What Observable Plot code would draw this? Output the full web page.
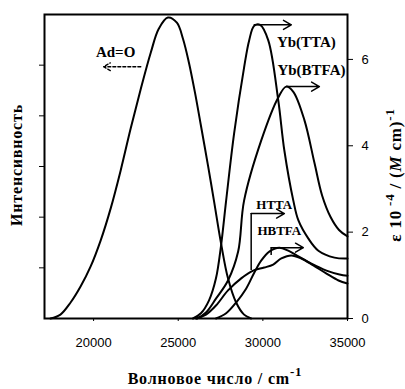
<!DOCTYPE html>
<html><head><meta charset="utf-8">
<script src="https://cdn.jsdelivr.net/npm/d3@7"></script>
<script src="https://cdn.jsdelivr.net/npm/@observablehq/plot@0.6"></script>
<style>body{margin:0;background:#fff}</style>
</head><body><div id="chart"></div>
<script>
// Tick values
const xTicks = [20000, 25000, 30000, 35000];
const yRightTicks = [0, 2, 4, 6];

// Series (wavenumber cm-1, value)
const adoX = [17450,18040,18640,19230,19820,20420,21010,21600,22190,22790,23380,23850,24390,24920,25280,25630,25990,26340,26760,27110,27530,27940,28420,28890,29310];
const adoY = [0,0.09,0.37,0.74,1.2,1.81,2.55,3.43,4.4,5.32,6.16,6.71,6.97,6.85,6.48,5.93,5.23,4.47,3.54,2.73,1.74,0.93,0.37,0.09,0];

const ttaX = [25870,26340,26820,27230,27530,27830,28300,28890,29190,29490,29840,30320,30910,31270,31800,32100,32690,33280,34230,35000];
const ttaY = [0,0.12,0.42,0.93,1.69,2.73,4.28,5.81,6.44,6.78,6.8,6.44,5.05,3.89,2.73,2.27,1.85,1.57,1.41,1.39];

const btfaX = [26110,26640,27230,27940,28540,28890,29900,30910,31380,31800,32450,33050,33500,34000,34500,35000];
const btfaY = [0,0.14,0.46,0.88,1.55,2.73,4.12,5.12,5.37,5.25,4.6,3.6,2.85,2.35,2.05,1.9];

const httaX = [26050,26640,27230,27940,28720,29430,30080,30610,31090,31680,32270,32980,33760,34470,35000];
const httaY = [0,0.09,0.3,0.65,0.93,1.11,1.18,1.25,1.39,1.46,1.39,1.23,1.04,0.88,0.81];

const hbtfaX = [27230,27830,28420,29010,29490,29900,30380,30970,31500,32100,32870,33760,34530,35000];
const hbtfaY = [0,0.12,0.37,0.69,1.06,1.34,1.55,1.64,1.57,1.44,1.27,1.11,1.02,0.99];

const seriesNames = ["Ad=O","Yb(TTA)","Yb(BTFA)","HTTA","HBTFA"];
const seriesXs = [adoX, ttaX, btfaX, httaX, hbtfaX];
const seriesYs = [adoY, ttaY, btfaY, httaY, hbtfaY];

// Annotation labels (data coordinates)
const labelText = ["Ad=O","Yb(TTA)","Yb(BTFA)","HTTA","HBTFA"];
const labelX = [21300, 32570, 32870, 30670, 30970];
const labelY = [6.16, 6.39, 5.74, 2.64, 2.04];

// Arrows (data coordinates)
const arrowX1 = [22790, 29490, 31380, 29310, 30490];
const arrowX2 = [20590, 31680, 33340, 31270, 32390];
const arrowY = [5.83, 6.8, 5.37, 2.43, 1.64];
const bracketX = [29310, 30490];
const bracketY1 = [1.11, 1.46];
const bracketY2 = [2.43, 1.64];

const data = [];
seriesNames.forEach((s, i) => seriesXs[i].forEach((x, j) => data.push({series: s, x, y: seriesYs[i][j]})));
const labels = labelText.map((t, i) => ({t, x: labelX[i], y: labelY[i], big: i < 3}));
const arrows = arrowX1.map((x1, i) => ({x1, x2: arrowX2[i], y: arrowY[i], dashed: i === 0}));
const brackets = bracketX.map((x, i) => ({x, y1: bracketY1[i], y2: bracketY2[i]}));

const yTop = 7.04;
const leftTicks = [1,2,3,4,5].map(k => k * yTop / 6);

const chart = Plot.plot({
  width: 405, height: 389,
  marginLeft: 44, marginRight: 58, marginTop: 14, marginBottom: 71,
  x: {domain: [17100, 35000]},
  y: {domain: [0, yTop]},
  style: {fontFamily: "'Liberation Sans', Arial, sans-serif", fontSize: "13px", background: "white", color: "black"},
  marks: [
    Plot.frame({stroke: "black", strokeWidth: 2}),
    Plot.axisX({ticks: xTicks, tickSize: 3, tickPadding: 16, tickFormat: d3.format("d"), label: null}),
    Plot.axisY({anchor: "right", ticks: yRightTicks, tickSize: 5, tickPadding: 9, tickFormat: d3.format("d"), label: null}),
    Plot.axisY({anchor: "left", ticks: leftTicks, tickSize: 5, tickFormat: () => "", label: null}),
    Plot.line(data, {x: "x", y: "y", z: "series", curve: "catmull-rom", stroke: "black", strokeWidth: 2}),
    Plot.ruleX(brackets, {x: "x", y1: "y1", y2: "y2", stroke: "black", strokeWidth: 1.5}),
    Plot.arrow(arrows.filter(a => !a.dashed), {x1: "x1", x2: "x2", y1: "y", y2: "y", stroke: "black", strokeWidth: 1.5, headLength: 9}),
    Plot.arrow(arrows.filter(a => a.dashed), {x1: "x1", x2: "x2", y1: "y", y2: "y", stroke: "black", strokeWidth: 1.3, strokeDasharray: "3,2", headLength: 9}),
    Plot.text(labels.filter(d => d.big), {x: "x", y: "y", text: "t", fontFamily: "'Liberation Serif', serif", fontWeight: "bold", fontSize: 15, letterSpacing: "1px"}),
    Plot.text(labels.filter(d => !d.big), {x: "x", y: "y", text: "t", fontFamily: "'Liberation Serif', serif", fontWeight: "bold", fontSize: 13, letterSpacing: "1.5px"})
  ]
});
document.getElementById("chart").appendChild(chart);

// Axis titles with superscripts
const svg = d3.select(chart);
const serif = "'Liberation Serif', 'DejaVu Serif', serif";
svg.append("text").attr("transform", "translate(22,165) rotate(-90)")
  .attr("text-anchor", "middle").attr("font-family", serif).attr("font-weight", "bold")
  .attr("font-size", 16).attr("letter-spacing", "0.8px").text("Интенсивность");

const rt = svg.append("text").attr("transform", "translate(401,175) rotate(-90)")
  .attr("text-anchor", "middle").attr("font-family", serif).attr("font-weight", "bold")
  .attr("font-size", 17).attr("letter-spacing", "0.8px");
rt.append("tspan").text("ε 10");
rt.append("tspan").attr("dy", -7).attr("font-size", 13).text(" -4");
rt.append("tspan").attr("dy", 7).text(" / (");
rt.append("tspan").attr("font-style", "italic").text("M");
rt.append("tspan").text(" cm)");
rt.append("tspan").attr("dy", -7).attr("font-size", 13).text("-1");

const bt = svg.append("text").attr("x", 215).attr("y", 384)
  .attr("text-anchor", "middle").attr("font-family", serif).attr("font-weight", "bold")
  .attr("font-size", 16).attr("letter-spacing", "0.8px");
bt.append("tspan").text("Волновое число / cm");
bt.append("tspan").attr("dy", -8).attr("font-size", 13).text("-1");
</script></body></html>
